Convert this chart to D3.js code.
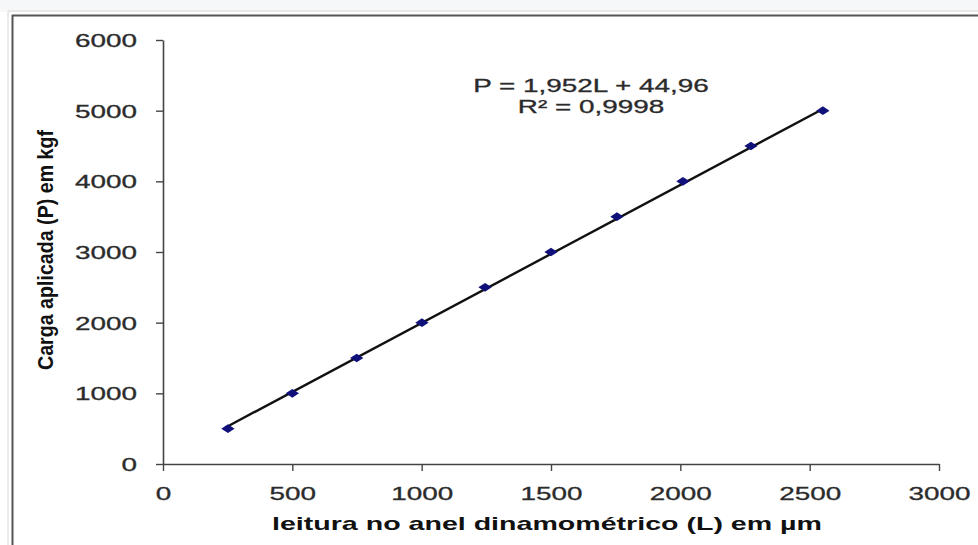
<!DOCTYPE html>
<html>
<head>
<meta charset="utf-8">
<script src="https://cdn.jsdelivr.net/npm/d3@7"></script>
<style>
  body { margin: 0; background: #fff; }
  text { font-family: "Liberation Sans", Arial, sans-serif; }
</style>
</head>
<body>
<svg id="chart" width="978" height="545"></svg>
<script>
// leituras no anel (L, µm) e cargas aplicadas (P, kgf)
const leitura = [251, 500, 749, 1001, 1245, 1500, 1755, 2010, 2273, 2551];
const carga = [500, 1000, 1500, 2000, 2500, 3000, 3500, 4000, 4500, 5000];
const xTicks = [0, 500, 1000, 1500, 2000, 2500, 3000];
const yTicks = [0, 1000, 2000, 3000, 4000, 5000, 6000];
const slope = 1.952;
const intercept = 44.96;
const eqLines = ["P = 1,952L + 44,96", "R² = 0,9998"];

const sx = 1.55; // the picture is stretched horizontally
let svg = d3.select("#chart");

// sheet frame
svg.append("rect").attr("x", 0).attr("y", 0).attr("width", 978).attr("height", 12).attr("fill", "#f6f7f8");
svg.append("line").attr("x1", 8).attr("x2", 978).attr("y1", 11).attr("y2", 11).attr("stroke", "#d8d8d8");
svg.append("line").attr("x1", 8).attr("x2", 8).attr("y1", 11).attr("y2", 545).attr("stroke", "#d8d8d8");
svg.append("line").attr("x1", 12).attr("x2", 978).attr("y1", 15.5).attr("y2", 15.5).attr("stroke", "#555").attr("stroke-width", 2);
svg.append("line").attr("x1", 12.5).attr("x2", 12.5).attr("y1", 15).attr("y2", 545).attr("stroke", "#555").attr("stroke-width", 2);

let x = d3.scaleLinear().domain([0, 3000]).range([163, 939]);
let y = d3.scaleLinear().domain([0, 6000]).range([464, 40]);

let xAxis = svg.append("g")
    .attr("transform", "translate(0,464)")
    .call(d3.axisBottom(x).tickValues(xTicks).tickFormat(d3.format("d")).tickSize(7).tickSizeOuter(0));
xAxis.select(".domain").attr("stroke", "#444").attr("stroke-width", 1.6);
xAxis.selectAll(".tick line").attr("stroke", "#444").attr("stroke-width", 1.4);
xAxis.selectAll(".tick text")
    .attr("y", 36).attr("dy", 0)
    .attr("transform", `scale(${sx},1)`)
    .attr("font-size", 18).attr("fill", "#2b2b2b").attr("stroke", "#2b2b2b").attr("stroke-width", 0.3);

let yAxis = svg.append("g")
    .attr("transform", "translate(163,0)")
    .call(d3.axisLeft(y).tickValues(yTicks).tickFormat(d3.format("d")).tickSize(7).tickSizeOuter(0));
yAxis.select(".domain").attr("stroke", "#444").attr("stroke-width", 1.6);
yAxis.selectAll(".tick line").attr("stroke", "#444").attr("stroke-width", 1.4);
yAxis.selectAll(".tick text")
    .attr("x", -26 / sx).attr("dy", "0.36em")
    .attr("transform", `scale(${sx},1)`)
    .attr("font-size", 18).attr("fill", "#2b2b2b").attr("stroke", "#2b2b2b").attr("stroke-width", 0.3);

// trend line
let xMin = d3.min(leitura), xMax = d3.max(leitura);
svg.append("line")
    .attr("x1", x(xMin)).attr("y1", y(slope * xMin + intercept))
    .attr("x2", x(xMax)).attr("y2", y(slope * xMax + intercept))
    .attr("stroke", "#111").attr("stroke-width", 2.4);

// markers
let pts = leitura.map((d, i) => ({ L: d, P: carga[i] }));
let marker = d3.symbol().type(d3.symbolSquare).size(42);
svg.selectAll("path.pt")
    .data(pts)
    .enter()
    .append("path")
    .attr("class", "pt")
    .attr("d", marker)
    .attr("transform", d => `translate(${x(d.L)},${y(d.P)}) scale(1.45,0.95) rotate(45)`)
    .attr("fill", "#10107a");

// equation
svg.append("g")
    .attr("transform", `translate(591,0) scale(${sx},1)`)
    .selectAll("text")
    .data(eqLines)
    .enter()
    .append("text")
    .attr("y", (d, i) => 92 + i * 21)
    .attr("text-anchor", "middle")
    .attr("font-size", 18)
    .attr("fill", "#2b2b2b").attr("stroke", "#2b2b2b").attr("stroke-width", 0.3)
    .text(d => d);

// axis titles
svg.append("text")
    .attr("x", 272).attr("y", 530)
    .attr("textLength", 550).attr("lengthAdjust", "spacingAndGlyphs")
    .attr("font-size", 19).attr("font-weight", "bold").attr("fill", "#111")
    .text("leitura no anel dinamométrico (L) em µm");

svg.append("g")
    .attr("transform", `translate(53,250) scale(${sx},1) rotate(-90)`)
    .append("text")
    .attr("x", -120)
    .attr("textLength", 240).attr("lengthAdjust", "spacingAndGlyphs")
    .attr("font-size", 14).attr("font-weight", "bold").attr("fill", "#111")
    .text("Carga aplicada (P) em kgf");
</script>
</body>
</html>
